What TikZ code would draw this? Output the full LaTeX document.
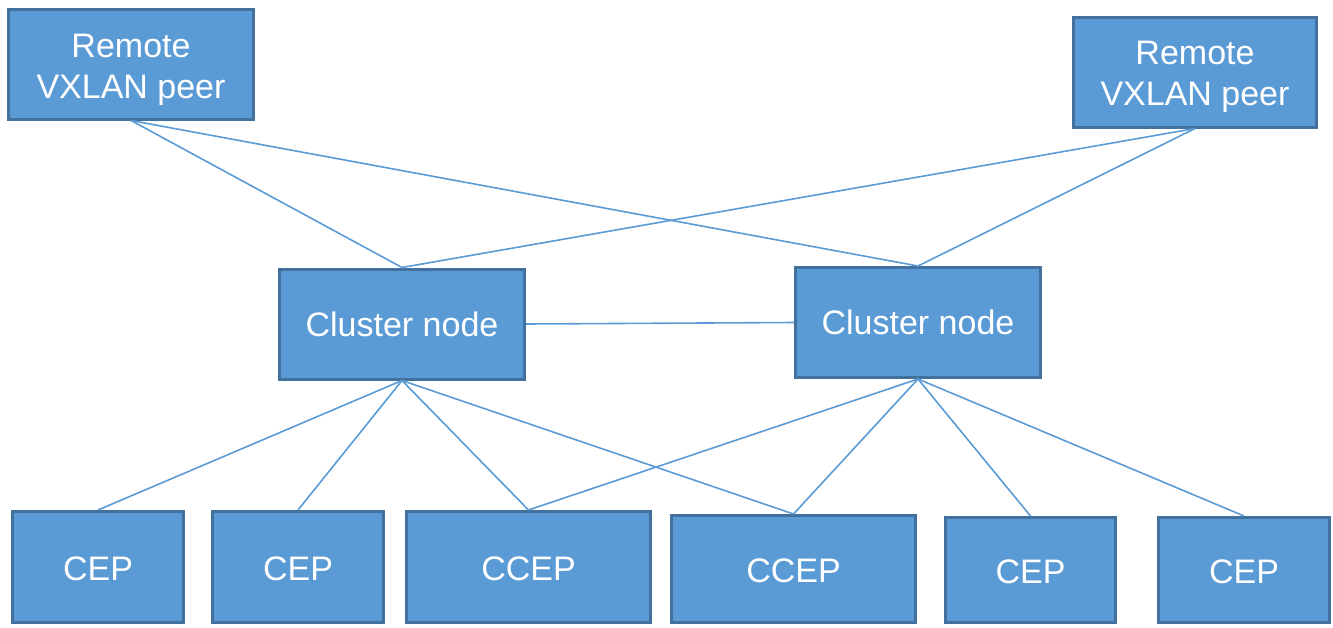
\documentclass[tikz,border=0pt]{standalone}
\usepackage{fontspec}
\setmainfont{Liberation Sans}
\definecolor{boxfill}{HTML}{5B9BD5}
\definecolor{boxline}{HTML}{41719C}
\definecolor{wire}{HTML}{5B9BD5}
\newcommand{\lowertext}[2]{\raisebox{-#1}[\height][\depth]{#2}}
\begin{document}
\begin{tikzpicture}[x=1pt,y=-1pt,
  box/.style={rectangle, draw=boxline, line width=3pt, fill=boxfill, text=white,
    inner sep=0pt, align=center, font=\fontsize{34}{41}\selectfont},
  wire/.style={draw=wire, line width=1.6pt}]
\useasboundingbox (0,0) rectangle (1333,627);
\node[box, minimum width=245pt, minimum height=110pt] (rl) at (131,64) {\lowertext{6pt}{\begin{tabular}{@{}c@{}}Remote\\VXLAN peer\end{tabular}}};
\node[box, minimum width=243pt, minimum height=110pt] (rr) at (1195,72) {\lowertext{5pt}{\begin{tabular}{@{}c@{}}Remote\\VXLAN peer\end{tabular}}};
\node[box, minimum width=245pt, minimum height=110pt] (cl) at (402,324) {Cluster node};
\node[box, minimum width=245pt, minimum height=110pt] (cr) at (918,322.5) {Cluster node};
\node[box, minimum width=171pt, minimum height=111pt] (e1) at (98,567) {\lowertext{2pt}{CEP}};
\node[box, minimum width=171pt, minimum height=111pt] (e2) at (298,567) {\lowertext{2pt}{CEP}};
\node[box, minimum width=244pt, minimum height=111pt] (c1) at (528.5,567) {\lowertext{2pt}{CCEP}};
\node[box, minimum width=244pt, minimum height=107pt] (c2) at (793.5,569) {\lowertext{2pt}{CCEP}};
\node[box, minimum width=170pt, minimum height=105pt] (e5) at (1030.5,570) {\lowertext{2pt}{CEP}};
\node[box, minimum width=171pt, minimum height=105pt] (e6) at (1244,570) {\lowertext{2pt}{CEP}};
\path[wire] (rl.south) -- (cl.north);
\path[wire] (rl.south) -- (cr.north);
\path[wire] (rr.south) -- (cr.north);
\path[wire] (rr.south) -- (cl.north);
\path[wire] (cl.east) -- (cr.west);
\path[wire] (cl.south) -- (e1.north);
\path[wire] (cl.south) -- (e2.north);
\path[wire] (cl.south) -- (c1.north);
\path[wire] (cl.south) -- (c2.north);
\path[wire] (cr.south) -- (c1.north);
\path[wire] (cr.south) -- (c2.north);
\path[wire] (cr.south) -- (e5.north);
\path[wire] (cr.south) -- (e6.north);
\end{tikzpicture}
\end{document}
